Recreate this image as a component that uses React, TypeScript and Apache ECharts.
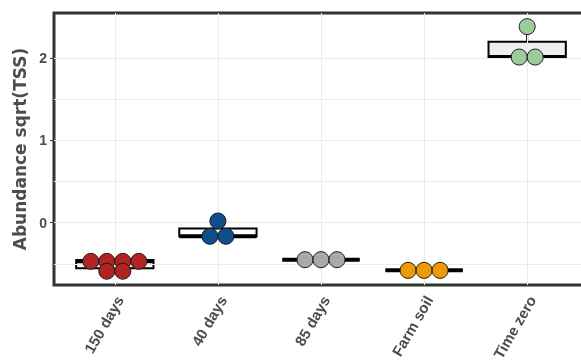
import React, { useEffect, useRef } from "react";
import * as echarts from "echarts";

// ---- data ----
const categories = ["150 days", "40 days", "85 days", "Farm soil", "Time zero"];
const pointColors = ["#B22222", "#104E8B", "#A9A9A9", "#EE9A00", "#9BCD9B"];
const boxFills = ["#FFFFFF", "#FFFFFF", "#FFFFFF", "#FFFFFF", "#EEEEEE"];

// sample values (dot-plot bins) per group
const days150 = [-0.47, -0.47, -0.47, -0.47, -0.59, -0.59];
const days40 = [0.02, -0.165, -0.165];
const days85 = [-0.45, -0.45, -0.45];
const farmSoil = [-0.58, -0.58, -0.58];
const timeZero = [2.385, 2.015, 2.015];
const groups = [days150, days40, days85, farmSoil, timeZero];

// box statistics per group: [lowWhisker, q1, median, q3, highWhisker]
const box150 = [-0.59, -0.555, -0.47, -0.455, -0.455];
const box40 = [-0.165, -0.165, -0.165, -0.07, 0.02];
const box85 = [-0.45, -0.45, -0.45, -0.45, -0.45];
const boxFarm = [-0.58, -0.58, -0.58, -0.58, -0.58];
const boxTime = [2.015, 2.015, 2.015, 2.2, 2.385];
const boxes = [box150, box40, box85, boxFarm, boxTime];

const yTicks = [0, 1, 2];
const yGrid = [-0.5, 0, 0.5, 1, 1.5, 2];
const xTicks = [1, 2, 3, 4, 5];

const DOT = 16;

export default function App() {
  const ref = useRef<HTMLDivElement>(null);
  useEffect(() => {
    if (!ref.current) return;
    const chart = echarts.init(ref.current, undefined, { renderer: "svg" });

    const scatterSeries = groups.map((vals, gi) => {
      const counts: Record<string, number> = {};
      vals.forEach((v) => (counts[String(v)] = (counts[String(v)] || 0) + 1));
      const seen: Record<string, number> = {};
      const data = vals.map((v) => {
        const k = String(v);
        const n = counts[k];
        const i = seen[k] || 0;
        seen[k] = i + 1;
        return { value: [gi + 1, v], symbolOffset: [(i - (n - 1) / 2) * DOT, 0] };
      });
      return {
        type: "scatter",
        xAxisIndex: 0,
        yAxisIndex: 0,
        symbol: "circle",
        symbolSize: DOT,
        z: 5,
        itemStyle: { color: pointColors[gi], borderColor: "#1a1a1a", borderWidth: 1, opacity: 1 },
        data,
      };
    });

    const labelFont = "'Liberation Sans', Arial, sans-serif";

    chart.setOption({
      animation: false,
      grid: {
        show: true,
        left: 54,
        top: 13,
        width: 534,
        height: 272,
        borderColor: "#333333",
        borderWidth: 3,
        backgroundColor: "transparent",
        containLabel: false,
        outerBoundsMode: "none",
      },
      xAxis: [
        {
          type: "value",
          min: 0.41,
          max: 5.59,
          axisLine: { show: false },
          axisTick: { show: true, customValues: xTicks, length: 4, lineStyle: { color: "#333", width: 1 } },
          axisLabel: { show: false },
          splitLine: { show: false },
        },
        {
          type: "value",
          min: 0.41 - 0.048,
          max: 5.59 - 0.048,
          position: "bottom",
          axisLine: { show: false },
          axisTick: { show: false },
          splitLine: { show: false },
          axisLabel: {
            customValues: xTicks,
            formatter: (v: number) => categories[Math.round(v) - 1] || "",
            rotate: 60,
            margin: 12,
            fontSize: 15,
            fontWeight: "bold",
            color: "#4D4D4D",
            fontFamily: labelFont,
          },
        },
      ],
      yAxis: {
        type: "value",
        min: -0.758,
        max: 2.551,
        axisLine: { show: false },
        axisTick: { show: true, customValues: yTicks, length: 4, lineStyle: { color: "#333", width: 1 } },
        axisLabel: {
          customValues: yTicks,
          margin: 7,
          fontSize: 14,
          fontWeight: "bold",
          color: "#4D4D4D",
          fontFamily: labelFont,
        },
        splitLine: { show: false },
        name: "Abundance sqrt(TSS)",
        nameLocation: "middle",
        nameGap: 22,
        nameTextStyle: {
          fontSize: 17,
          fontWeight: "bold",
          color: "#4D4D4D",
          fontFamily: "'DejaVu Sans', sans-serif",
        },
      },
      series: [
        {
          type: "scatter",
          xAxisIndex: 0,
          yAxisIndex: 0,
          data: [],
          z: 1,
          silent: true,
          markLine: {
            silent: true,
            symbol: "none",
            label: { show: false },
            lineStyle: { type: "solid", color: "#EBEBEB", width: 1 },
            data: [
              ...yGrid.map((v) => ({ yAxis: v })),
              ...xTicks.map((v) => ({ xAxis: v })),
            ],
          },
        },
        {
          type: "custom",
          xAxisIndex: 0,
          yAxisIndex: 0,
          z: 3,
          data: boxes.map((b, i) => [i + 1, ...b]),
          renderItem: (params: any, api: any) => {
            const x = api.value(0);
            const lo = api.coord([x, api.value(1)]);
            const q1 = api.coord([x, api.value(2)]);
            const med = api.coord([x, api.value(3)]);
            const q3 = api.coord([x, api.value(4)]);
            const hi = api.coord([x, api.value(5)]);
            const half = api.size([0.75, 0])[0] / 2;
            const cx = q1[0];
            return {
              type: "group",
              children: [
                { type: "line", shape: { x1: cx, y1: hi[1], x2: cx, y2: q3[1] }, style: { stroke: "#000", lineWidth: 2 } },
                { type: "line", shape: { x1: cx, y1: q1[1], x2: cx, y2: lo[1] }, style: { stroke: "#000", lineWidth: 2 } },
                {
                  type: "rect",
                  shape: { x: cx - half, y: q3[1], width: half * 2, height: q1[1] - q3[1] },
                  style: { fill: boxFills[params.dataIndex], stroke: "#000", lineWidth: 2 },
                },
                {
                  type: "line",
                  shape: { x1: cx - half, y1: med[1], x2: cx + half, y2: med[1] },
                  style: { stroke: "#000", lineWidth: 4 },
                },
              ],
            };
          },
        },
        ...scatterSeries,
      ],
    });
    return () => chart.dispose();
  }, []);
  return <div ref={ref} style={{ position: "fixed", left: 0, top: 0, width: 581, height: 362 }} />;
}
